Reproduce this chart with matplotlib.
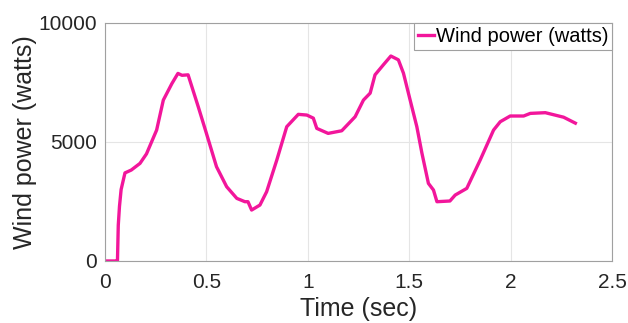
import numpy as np
import matplotlib.pyplot as plt

# values
t = [0, 0.055, 0.062, 0.066, 0.072, 0.08, 0.099, 0.13, 0.173, 0.205, 0.255, 0.288, 0.33,
     0.36, 0.38, 0.41, 0.46, 0.50, 0.55, 0.60, 0.65, 0.69, 0.705, 0.723, 0.764, 0.797,
     0.847, 0.896, 0.953, 0.995, 1.027, 1.044, 1.10, 1.167, 1.233, 1.274, 1.307, 1.331,
     1.372, 1.409, 1.446, 1.471, 1.504, 1.537, 1.562, 1.594, 1.619, 1.636, 1.70, 1.726,
     1.783, 1.849, 1.915, 1.948, 1.997, 2.063, 2.096, 2.17, 2.26, 2.318]
power = [0, 0, 0, 1500, 2300, 3000, 3700, 3820, 4100, 4500, 5500, 6760, 7450,
         7880, 7800, 7820, 6480, 5370, 3960, 3120, 2630, 2490, 2490, 2140, 2350, 2910,
         4240, 5640, 6160, 6130, 6000, 5570, 5360, 5470, 6060, 6760, 7050, 7820,
         8240, 8610, 8450, 7890, 6760, 5640, 4530, 3260, 2980, 2490, 2520, 2770,
         3050, 4240, 5500, 5850, 6090, 6090, 6200, 6230, 6040, 5790]

plt.rcParams['font.family'] = ['Liberation Sans', 'DejaVu Sans']

fig = plt.figure(figsize=(6.28, 3.23), dpi=100)
ax = fig.add_axes([0.167, 0.192, 0.808, 0.737])
ax.plot(t, power, color='#F2169B', linewidth=2.4, label='Wind power (watts)')

ax.set_xlim(0, 2.5)
ax.set_ylim(0, 10000)
ax.set_xticks([0, 0.5, 1, 1.5, 2, 2.5])
ax.set_xticklabels(['0', '0.5', '1', '1.5', '2', '2.5'])
ax.set_yticks([0, 5000, 10000])
ax.grid(True, color='#E5E5E5', linewidth=0.8)
ax.tick_params(axis='x', length=0, labelsize=15, labelcolor='#262626', pad=9)
ax.tick_params(axis='y', length=0, labelsize=15, labelcolor='#262626', pad=6)
for s in ax.spines.values():
    s.set_color('#A0A0A0')
    s.set_linewidth(0.8)

ax.set_xlabel('Time (sec)', fontsize=18, color='#262626', labelpad=3.5)
ax.set_ylabel('Wind power (watts)', fontsize=18, color='#262626', labelpad=1)

leg = ax.legend(loc='upper right', fontsize=14.5, handlelength=0.8, handletextpad=0.1,
                borderpad=0.2, borderaxespad=0, fancybox=False, framealpha=1)
leg.get_frame().set_edgecolor('#A0A0A0')
leg.get_frame().set_linewidth(0.8)

fig.savefig('out.png', dpi=100)
